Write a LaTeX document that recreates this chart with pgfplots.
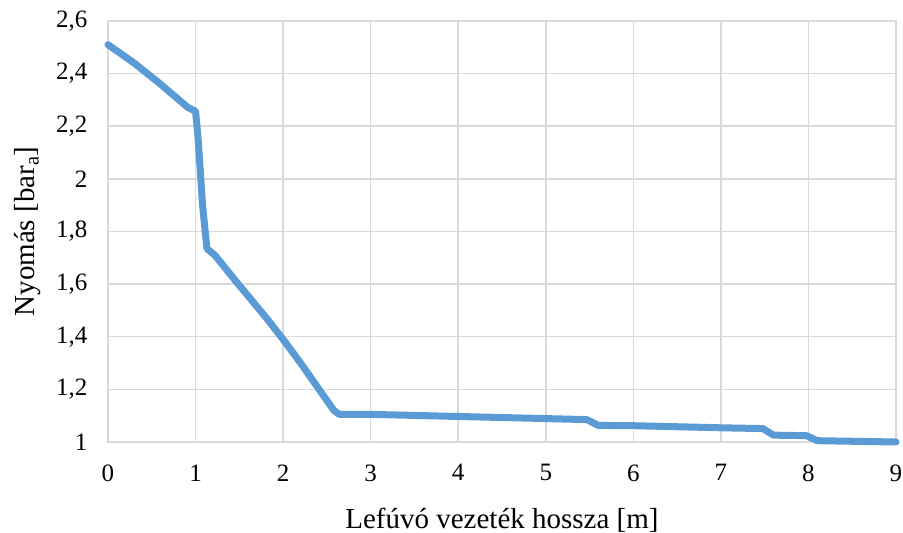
\documentclass[border=0pt]{standalone}
\usepackage{fontspec}
\setmainfont{Liberation Serif}
\usepackage{pgfplots}
\pgfplotsset{compat=1.18}
\definecolor{excelblue}{RGB}{91,155,213}
\definecolor{gridgray}{RGB}{217,217,217}
\begin{document}
\begin{tikzpicture}
\useasboundingbox (-108pt,-91pt) rectangle (795pt,442pt);
\begin{axis}[
  at={(0,0)}, anchor=south west,
  scale only axis,
  width=788pt, height=421pt,
  xmin=0, xmax=9, ymin=1, ymax=2.6,
  xtick={0,1,...,9},
  ytick={1,1.2,1.4,1.6,1.8,2,2.2,2.4,2.6},
  grid=major,
  major grid style={gridgray, line width=1.5pt},
  axis line style={gridgray, line width=1.5pt},
  tick style={draw=none},
  ticklabel style={font=\fontsize{25}{27}\selectfont, text=black},
  /pgf/number format/assume math mode=true,
  /pgf/number format/use comma,
  /pgf/number format/1000 sep={},
  xticklabel style={yshift=-19pt},
  yticklabel style={xshift=-17pt},
  xlabel={Lefúvó vezeték hossza [m]},
  ylabel={Nyomás [bar\textsubscript{a}]},
  label style={font=\fontsize{29}{31}\selectfont},
  xlabel style={at={(rel axis cs:0.5,-0.185)}, anchor=center},
  ylabel style={at={(rel axis cs:-0.1015,0.5)}, anchor=center, rotate=0},
  clip=false,
]
\addplot[excelblue, line width=7pt, line join=round, line cap=round] coordinates {
(0,2.51) (0.3,2.44) (0.6,2.36) (0.91,2.272) (1.0,2.257) (1.03,2.15) (1.08,1.9) (1.13,1.735) (1.22,1.71)
(1.5,1.595) (1.8,1.475) (2.0,1.39) (2.2,1.30) (2.4,1.205) (2.58,1.12) (2.64,1.105)
(3,1.105) (4,1.097) (5,1.089) (5.47,1.085) (5.6,1.063) (6,1.062) (7,1.054) (7.48,1.051) (7.6,1.026)
(7.98,1.024) (8.1,1.005) (9,1.0)
};
\end{axis}
\end{tikzpicture}
\end{document}
